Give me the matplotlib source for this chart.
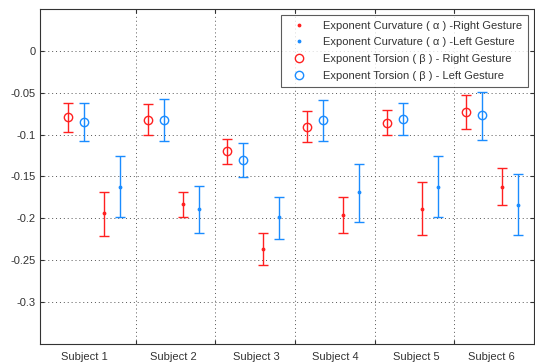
import numpy as np
import matplotlib
matplotlib.use('Agg')
from matplotlib import pyplot as plt
from matplotlib.lines import Line2D

plt.rcParams['font.family'] = ['Liberation Sans', 'DejaVu Sans']
plt.rcParams['axes.unicode_minus'] = False

subjects = ['Subject 1', 'Subject 2', 'Subject 3', 'Subject 4', 'Subject 5', 'Subject 6']

# torsion (beta), right / left gesture: mean, lower, upper
tor_right = [-0.079, -0.082, -0.120, -0.091, -0.086, -0.073]
tor_right_lo = [-0.097, -0.101, -0.135, -0.109, -0.101, -0.093]
tor_right_hi = [-0.062, -0.063, -0.105, -0.072, -0.070, -0.053]
tor_left = [-0.085, -0.083, -0.130, -0.083, -0.081, -0.077]
tor_left_lo = [-0.108, -0.108, -0.151, -0.108, -0.100, -0.106]
tor_left_hi = [-0.062, -0.058, -0.110, -0.059, -0.062, -0.049]

# curvature (alpha), right / left gesture
cur_right = [-0.194, -0.183, -0.237, -0.196, -0.189, -0.162]
cur_right_lo = [-0.221, -0.198, -0.256, -0.218, -0.220, -0.184]
cur_right_hi = [-0.169, -0.168, -0.217, -0.174, -0.157, -0.140]
cur_left = [-0.162, -0.189, -0.199, -0.168, -0.162, -0.184]
cur_left_lo = [-0.198, -0.217, -0.225, -0.204, -0.198, -0.220]
cur_left_hi = [-0.126, -0.161, -0.175, -0.135, -0.126, -0.147]

labels = ['Exponent Curvature ( α ) -Right Gesture',
          'Exponent Curvature ( α ) -Left Gesture',
          'Exponent Torsion ( β ) - Right Gesture',
          'Exponent Torsion ( β ) - Left Gesture']

red = '#ff2020'
blue = '#1a8cff'

fig = plt.figure(figsize=(5.35, 3.62), dpi=100)
ax = fig.add_axes([0.075, 0.05, 0.923, 0.925])

base = np.arange(len(subjects)) - 1.0


def eb(xs, y, lo, hi, color, marker, ms, mfc):
    y = np.array(y)
    err = [y - np.array(lo), np.array(hi) - y]
    ax.errorbar(xs, y, yerr=err, fmt=marker, color=color, ecolor=color,
                ms=ms, mfc=mfc, mec=color, mew=1.0, elinewidth=1.0,
                capsize=3.5, capthick=1.0)


eb(base + 0.6, cur_right, cur_right_lo, cur_right_hi, red, '.', 3.5, red)
eb(base + 0.8, cur_left, cur_left_lo, cur_left_hi, blue, '.', 3.5, blue)
eb(base + 0.15, tor_right, tor_right_lo, tor_right_hi, red, 'o', 6, 'none')
eb(base + 0.35, tor_left, tor_left_lo, tor_left_hi, blue, 'o', 6, 'none')

ax.set_xlim(-1.2, 5.0)
ax.set_ylim(-0.35, 0.05)
ax.set_xticks(np.arange(0, 5))
ax.set_xticklabels([])
ax.set_xticks([-0.65, 0.47, 1.52, 2.51, 3.52, 4.46], minor=True)
ax.set_xticklabels(subjects, minor=True)
ax.tick_params(axis='x', which='minor', length=0, pad=6, labelsize=8)
yt = [0, -0.05, -0.1, -0.15, -0.2, -0.25, -0.3]
ax.set_yticks(yt)
ax.set_yticklabels(['0', '-0.05', '-0.1', '-0.15', '-0.2', '-0.25', '-0.3'])
ax.tick_params(axis='both', which='major', direction='in', length=3,
               labelsize=8, top=True, right=True, colors='#333333')
ax.tick_params(axis='both', which='minor', labelcolor='#333333')
ax.grid(True, which='major', linestyle=(0, (1, 3)), color='#555555', linewidth=0.7)
for s in ax.spines.values():
    s.set_color('#333333')

handles = [
    Line2D([], [], ls='none', marker='.', ms=3.5, color=red),
    Line2D([], [], ls='none', marker='.', ms=3.5, color=blue),
    Line2D([], [], ls='none', marker='o', ms=6, mfc='none', mec=red),
    Line2D([], [], ls='none', marker='o', ms=6, mfc='none', mec=blue),
]
leg = ax.legend(handles, labels, loc='upper right', fontsize=8, frameon=True,
                fancybox=False, edgecolor='#333333', handlelength=2.0,
                handletextpad=1.2, borderaxespad=0.5, labelspacing=0.6,
                borderpad=0.55)
leg.get_frame().set_linewidth(0.8)
for t in leg.get_texts():
    t.set_color('#333333')

fig.savefig('out.png', dpi=100)
